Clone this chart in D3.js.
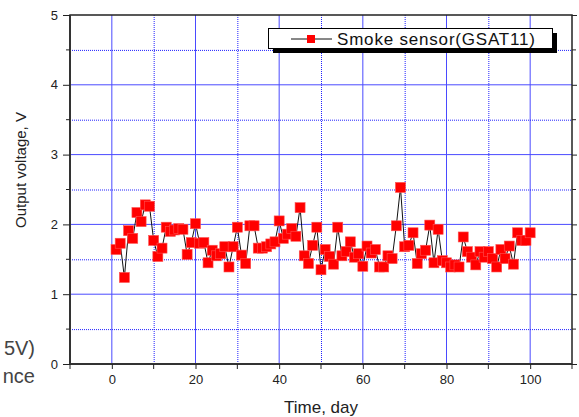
<!DOCTYPE html>
<html>
<head>
<meta charset="utf-8">
<script src="https://cdn.jsdelivr.net/npm/d3@7"></script>
<style>
  body { margin: 0; background: #fff; }
  text { font-family: "Liberation Sans", Arial, sans-serif; }
</style>
</head>
<body>
<script>
var width = 579; //画布的宽度
var height = 417; //画布的高度

// data
var days = [1, 2, 3, 4, 5, 6, 7, 8, 9, 10,
  11, 12, 13, 14, 15, 16, 17, 18, 19, 20,
  21, 22, 23, 24, 25, 26, 27, 28, 29, 30,
  31, 32, 33, 34, 35, 36, 37, 38, 39, 40,
  41, 42, 43, 44, 45, 46, 47, 48, 49, 50,
  51, 52, 53, 54, 55, 56, 57, 58, 59, 60,
  61, 62, 63, 64, 65, 66, 67, 68, 69, 70,
  71, 72, 73, 74, 75, 76, 77, 78, 79, 80,
  81, 82, 83, 84, 85, 86, 87, 88, 89, 90,
  91, 92, 93, 94, 95, 96, 97, 98, 99, 100];
var voltage = [1.64, 1.73, 1.24, 1.91, 1.80, 2.17, 2.04, 2.28, 2.26, 1.77,
  1.54, 1.66, 1.96, 1.90, 1.92, 1.94, 1.93, 1.57, 1.74, 2.01,
  1.73, 1.74, 1.45, 1.63, 1.55, 1.58, 1.68, 1.39, 1.68, 1.96,
  1.56, 1.44, 1.98, 1.98, 1.66, 1.66, 1.68, 1.72, 1.75, 2.05,
  1.80, 1.86, 1.94, 1.83, 2.24, 1.55, 1.44, 1.70, 1.96, 1.35,
  1.64, 1.54, 1.43, 1.96, 1.55, 1.61, 1.75, 1.53, 1.58, 1.40,
  1.69, 1.59, 1.64, 1.39, 1.39, 1.55, 1.51, 1.98, 2.53, 1.68,
  1.70, 1.88, 1.44, 1.58, 1.63, 1.99, 1.45, 1.93, 1.48, 1.45,
  1.39, 1.42, 1.39, 1.82, 1.61, 1.53, 1.42, 1.61, 1.53, 1.61,
  1.51, 1.39, 1.64, 1.51, 1.69, 1.43, 1.88, 1.77, 1.77, 1.88];
var xTicks = [0, 20, 40, 60, 80, 100],
  xMinor = [-10, 10, 30, 50, 70, 90, 110],
  yTicks = [0, 1, 2, 3, 4, 5],
  yMinor = [0.5, 1.5, 2.5, 3.5, 4.5];
var seriesName = "Smoke sensor(GSAT11)";
// fragments of page text that stick into the picture at the left
var sideText = ["5V)", "nce"];

var plot = { left: 70, right: 572, top: 15, bottom: 364 };

var svg = d3.select("body")
  .append("svg")
  .attr("width", width)
  .attr("height", height);

var x = d3.scaleLinear()
  .domain([-10, 110])
  .range([plot.left, plot.right]);

var y = d3.scaleLinear()
  .domain([0, 5])
  .range([plot.bottom, plot.top]);

svg.selectAll(".side")
  .data(sideText)
  .enter().append("text")
  .attr("class", "side")
  .attr("x", 35)
  .attr("y", function(d, i) { return 355 + i * 28; })
  .attr("text-anchor", "end")
  .attr("font-size", 20)
  .attr("fill", "#444")
  .text(function(d) { return d; });

// grid
var grid = svg.append("g");
grid.selectAll(".vmaj")
  .data(xTicks)
  .enter().append("line")
  .attr("x1", function(d) { return x(d); })
  .attr("x2", function(d) { return x(d); })
  .attr("y1", plot.top).attr("y2", plot.bottom)
  .attr("stroke", "#4a4aff").attr("stroke-width", 1);
grid.selectAll(".vmin")
  .data(xMinor.filter(function(d) { return d > -10 && d < 110; }))
  .enter().append("line")
  .attr("x1", function(d) { return x(d) + 0.5; })
  .attr("x2", function(d) { return x(d) + 0.5; })
  .attr("y1", plot.top).attr("y2", plot.bottom)
  .attr("stroke", "#2020ff").attr("stroke-width", 1)
  .attr("stroke-dasharray", "1,1");
grid.selectAll(".hmaj")
  .data(yTicks.filter(function(d) { return d > 0 && d < 5; }))
  .enter().append("line")
  .attr("x1", plot.left).attr("x2", plot.right)
  .attr("y1", function(d) { return y(d); })
  .attr("y2", function(d) { return y(d); })
  .attr("stroke", "#4a4aff").attr("stroke-width", 1);
grid.selectAll(".hmin")
  .data(yMinor)
  .enter().append("line")
  .attr("x1", plot.left).attr("x2", plot.right)
  .attr("y1", function(d) { return y(d) + 0.5; })
  .attr("y2", function(d) { return y(d) + 0.5; })
  .attr("stroke", "#2020ff").attr("stroke-width", 1)
  .attr("stroke-dasharray", "1,1");

// frame
svg.append("rect")
  .attr("x", plot.left).attr("y", plot.top)
  .attr("width", plot.right - plot.left)
  .attr("height", plot.bottom - plot.top)
  .attr("fill", "none")
  .attr("stroke", "#222").attr("stroke-width", 1.5);
svg.append("path")
  .attr("d", "M" + plot.left + "," + plot.top + "V" + plot.bottom + "H" + plot.right)
  .attr("fill", "none")
  .attr("stroke", "#333").attr("stroke-width", 2);

// axes
var xAxis = d3.axisBottom(x).tickValues(xTicks).tickSize(5).tickSizeOuter(0);
var gx = svg.append("g")
  .attr("transform", "translate(0," + plot.bottom + ")")
  .call(xAxis);
gx.selectAll(".minor")
  .data(xMinor)
  .enter().append("line")
  .attr("x1", function(d) { return x(d); })
  .attr("x2", function(d) { return x(d); })
  .attr("y1", 0).attr("y2", 5)
  .attr("stroke", "#222");

var yAxis = d3.axisLeft(y).tickValues(yTicks).tickSize(7).tickSizeOuter(0)
  .tickFormat(d3.format("d"));
var gy = svg.append("g")
  .attr("transform", "translate(" + plot.left + ",0)")
  .call(yAxis);
gy.selectAll(".minor")
  .data(yMinor)
  .enter().append("line")
  .attr("x1", -4).attr("x2", 0)
  .attr("y1", function(d) { return y(d); })
  .attr("y2", function(d) { return y(d); })
  .attr("stroke", "#222");

var gr = svg.append("g")
  .attr("transform", "translate(" + plot.right + ",0)")
  .call(d3.axisRight(y).tickValues(yTicks).tickSize(5).tickSizeOuter(0).tickFormat(""));
gr.selectAll(".minor")
  .data(yMinor)
  .enter().append("line")
  .attr("x1", 0).attr("x2", 4)
  .attr("y1", function(d) { return y(d); })
  .attr("y2", function(d) { return y(d); })
  .attr("stroke", "#222");

[gx, gy, gr].forEach(function(g) {
  g.select(".domain").remove();
  g.selectAll(".tick line").attr("stroke", "#222");
  g.selectAll("text")
    .attr("font-family", "'Liberation Sans', Arial, sans-serif")
    .attr("font-size", 13)
    .attr("fill", "#222");
});
gy.selectAll(".tick text").attr("x", -12);
gx.selectAll(".tick text").attr("y", 11);

// axis titles
svg.append("text")
  .attr("x", (plot.left + plot.right) / 2)
  .attr("y", 413)
  .attr("text-anchor", "middle")
  .attr("font-size", 17)
  .attr("fill", "#222")
  .text("Time, day");
svg.append("text")
  .attr("transform", "translate(26,170) rotate(-90)")
  .attr("text-anchor", "middle")
  .attr("font-size", 15)
  .attr("fill", "#222")
  .text("Output voltage, V");

// series
var points = days.map(function(d, i) { return [d, voltage[i]]; });
var line = d3.line()
  .x(function(d) { return x(d[0]); })
  .y(function(d) { return y(d[1]); });

svg.append("path")
  .datum(points)
  .attr("d", line)
  .attr("fill", "none")
  .attr("stroke", "#111")
  .attr("stroke-width", 1);

var s = 10;
svg.selectAll(".pt")
  .data(points)
  .enter().append("rect")
  .attr("class", "pt")
  .attr("x", function(d) { return x(d[0]) - s / 2; })
  .attr("y", function(d) { return y(d[1]) - s / 2; })
  .attr("width", s).attr("height", s)
  .attr("fill", "#ff0000")
  .attr("stroke", "#ff5050")
  .attr("stroke-width", 0.6);

// legend
var lg = svg.append("g");
lg.append("rect")
  .attr("x", 273).attr("y", 33)
  .attr("width", 284).attr("height", 20)
  .attr("fill", "#000");
lg.append("rect")
  .attr("x", 268.5).attr("y", 28.5)
  .attr("width", 284).attr("height", 20)
  .attr("fill", "#fff")
  .attr("stroke", "#000").attr("stroke-width", 1);
lg.append("line")
  .attr("x1", 291).attr("x2", 332)
  .attr("y1", 39).attr("y2", 39)
  .attr("stroke", "#111").attr("stroke-width", 1);
lg.append("rect")
  .attr("x", 307).attr("y", 35)
  .attr("width", 8).attr("height", 8)
  .attr("fill", "#ff0000");
lg.append("text")
  .attr("x", 337).attr("y", 45)
  .attr("font-size", 17)
  .attr("textLength", 198)
  .attr("lengthAdjust", "spacing")
  .attr("fill", "#111")
  .text(seriesName);
</script>
</body>
</html>
